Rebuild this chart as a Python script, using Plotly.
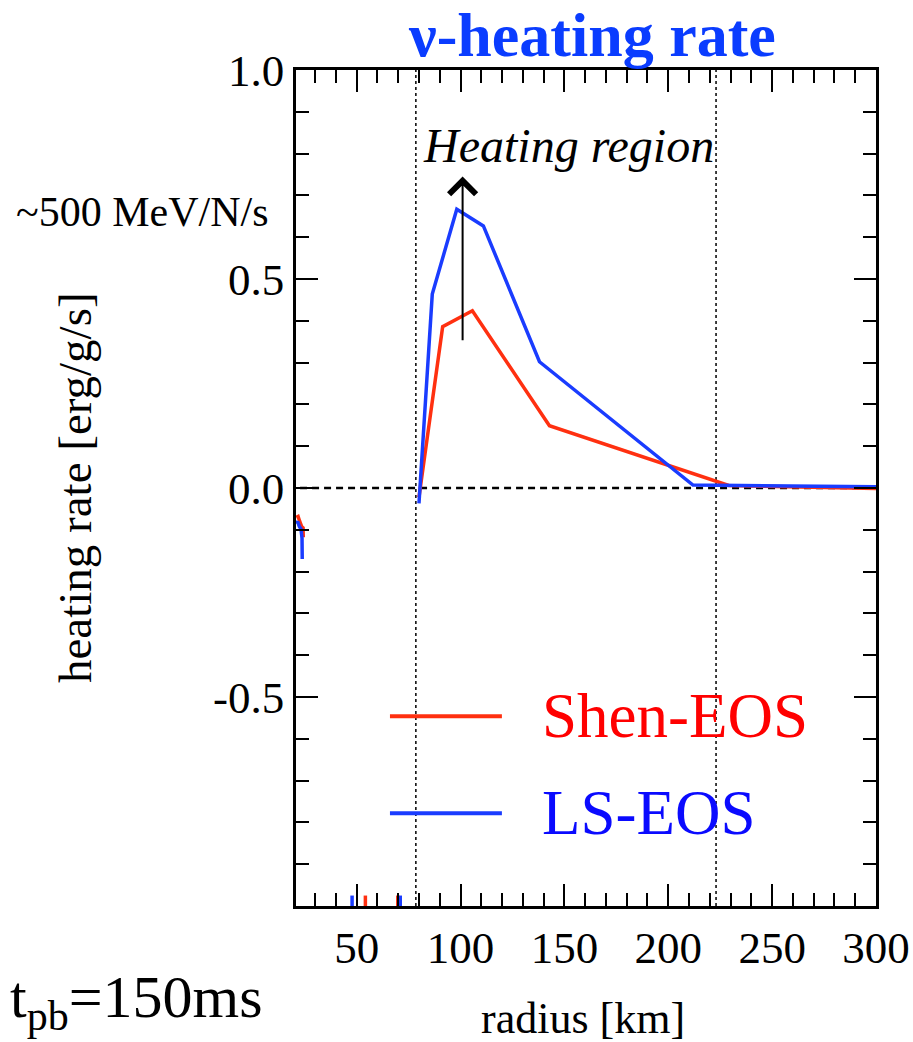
import plotly.graph_objects as go

# ---------------- data ----------------
# radius [km] and heating rate; None = gap (curve leaves the frame)
shen_r = [20.9, 21.8, 22.6, 23.5, 24.2, 24.3, None,
          54.2, 54.2, None, 69.8, 69.8, None,
          80.0, 91.4, 105.7, 142.8, 229.1, 300.0]
shen_h = [-0.070, -0.068, -0.080, -0.092, -0.095, -0.118, None,
          -1.05, -0.975, None, -0.975, -1.05, None,
          -0.022, 0.386, 0.424, 0.149, 0.006, -0.001]

ls_r = [20.9, 21.6, 22.4, 23.2, 23.7, 23.8, None,
        47.8, 47.8, None, 71.0, 71.0, None,
        80.0, 86.4, 98.2, 111.0, 138.0, 211.9, 300.0]
ls_h = [-0.085, -0.080, -0.092, -0.098, -0.120, -0.170, None,
        -1.05, -0.975, None, -0.975, -1.05, None,
        -0.037, 0.464, 0.667, 0.627, 0.302, 0.007, 0.003]

heating_bounds = [78.5, 223.0]          # dotted lines: heating region limits [km]
arrow_r = 101.0
arrow_from, arrow_to = 0.35, 0.745      # arrow span in heating rate units

x_ticks = [50, 100, 150, 200, 250, 300]
y_ticks = [1.0, 0.5, 0.0, -0.5]
y_ticklabels = ["1.0", "0.5", "0.0", "-0.5"]

RED_LINE = "#ff3010"
BLUE_LINE = "#1a3cff"
FONT = "Liberation Serif"

fig = go.Figure()

fig.add_trace(go.Scatter(x=shen_r, y=shen_h, mode="lines", name="Shen-EOS",
                         line=dict(color=RED_LINE, width=3.5), connectgaps=False,
                         showlegend=False))
fig.add_trace(go.Scatter(x=ls_r, y=ls_h, mode="lines", name="LS-EOS",
                         line=dict(color=BLUE_LINE, width=3.5), connectgaps=False,
                         showlegend=False))

# zero line
fig.add_shape(type="line", xref="paper", yref="y", x0=0.007, x1=1, y0=0, y1=0,
              line=dict(color="black", width=2.5, dash="7px,5px"), layer="below")
# heating region limits
for xb in heating_bounds:
    fig.add_shape(type="line", xref="x", yref="paper", x0=xb, x1=xb, y0=0, y1=1,
                  line=dict(color="black", width=1.5, dash="dot"), layer="below")

# legend (custom, to match long line samples)
leg = [("Shen-EOS", RED_LINE, "#ff0000", 0.227), ("LS-EOS", BLUE_LINE, "#0a0aff", 0.111)]
for txt, lc, tc, yy in leg:
    fig.add_shape(type="line", xref="paper", yref="paper", x0=0.162, x1=0.355,
                  y0=yy, y1=yy, line=dict(color=lc, width=4))
    fig.add_annotation(xref="paper", yref="paper", x=0.42, y=yy, xanchor="left",
                       yanchor="middle", text=txt, showarrow=False,
                       font=dict(family=FONT, size=63, color=tc))

# arrow
fig.add_annotation(x=arrow_r, y=arrow_to, ax=arrow_r, ay=arrow_from,
                   xref="x", yref="y", axref="x", ayref="y", text="",
                   showarrow=True, arrowhead=4, arrowsize=2.6, arrowwidth=2,
                   arrowcolor="black")

fig.add_annotation(x=152, y=0.82, xref="x", yref="y", text="<i>Heating region</i>",
                   xanchor="center", yanchor="middle",
                   showarrow=False, font=dict(family=FONT, size=48, color="black"))

fig.add_annotation(xref="paper", yref="paper", x=-0.264, y=0.830,
                   xanchor="center", yanchor="middle",
                   text="~500 MeV/N/s", showarrow=False,
                   font=dict(family=FONT, size=42, color="black"))

fig.add_annotation(xref="paper", yref="paper", x=-0.381, y=0.5,
                   xanchor="center", yanchor="middle",
                   text="heating rate [erg/g/s]", textangle=-90, showarrow=False,
                   font=dict(family=FONT, size=47, color="black"))

fig.add_annotation(xref="paper", yref="paper", x=0.495, y=-0.134,
                   xanchor="center", yanchor="middle",
                   text="radius [km]", showarrow=False,
                   font=dict(family=FONT, size=44, color="black"))

fig.add_annotation(xref="paper", yref="paper", x=-0.497, y=-0.114, xanchor="left",
                   yanchor="middle",
                   text="t<sub>pb</sub>=150ms", showarrow=False,
                   font=dict(family=FONT, size=60, color="black"))

fig.add_annotation(xref="paper", yref="paper", x=0.51, y=1.042,
                   xanchor="center", yanchor="middle",
                   text="<b>\u03bd-heating rate</b>", showarrow=False,
                   font=dict(family=FONT, size=62, color="#0a3cff"))

axis_common = dict(showline=True, linecolor="black", linewidth=2.5, mirror="allticks",
                   ticks="inside", ticklen=22, tickwidth=2, tickcolor="black",
                   showgrid=False, zeroline=False, automargin=False,
                   tickfont=dict(family=FONT, size=45, color="black"))

fig.update_xaxes(range=[20.8, 300], tickmode="array", tickvals=x_ticks,
                 ticktext=[str(v) for v in x_ticks],
                 minor=dict(ticks="inside", ticklen=13, tickwidth=2, tickcolor="black",
                            tick0=0, dtick=10, showgrid=False),
                 **axis_common)
fig.update_yaxes(range=[-1.0, 1.0], tickmode="array", tickvals=y_ticks,
                 ticktext=y_ticklabels,
                 minor=dict(ticks="inside", ticklen=13, tickwidth=2, tickcolor="black",
                            tick0=0, dtick=0.1, showgrid=False),
                 **axis_common)

fig.update_layout(width=913, height=1042, margin=dict(l=296, r=37, t=70, b=136),
                  plot_bgcolor="white", paper_bgcolor="white", showlegend=False)

fig.write_html("out.html")
